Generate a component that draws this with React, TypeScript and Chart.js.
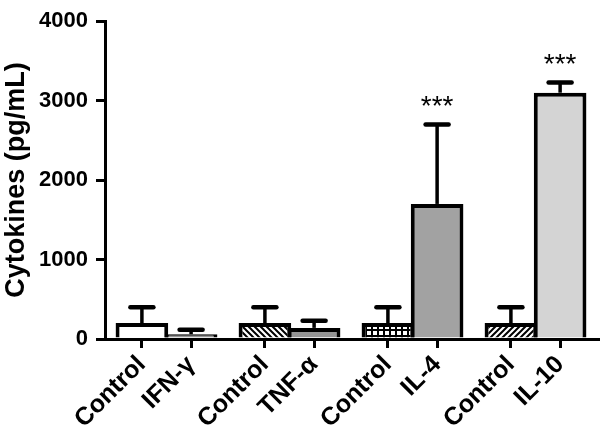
import React, { useEffect, useRef } from "react";
import { Chart, registerables } from "chart.js";

Chart.register(...registerables);

const categories = ["Control", "IFN-γ", "Control", "TNF-α", "Control", "IL-4", "Control", "IL-10"];
const means = [200, 60, 200, 140, 200, 1700, 200, 3100];
const errors = [200, 55, 200, 90, 200, 1000, 200, 130];
const significance = ["", "", "", "", "", "***", "", "***"];
const yTickValues = [0, 1000, 2000, 3000, 4000];
const fills = ["white", "gray", "hatchBack", "gray", "grid", "midGray", "hatchFwd", "lightGray"];

const FONT = "'Liberation Sans', Arial, Helvetica, sans-serif";

function makePattern(kind: string): CanvasPattern | string {
  if (kind === "white") return "#ffffff";
  if (kind === "gray") return "#959595";
  if (kind === "midGray") return "#a2a2a2";
  if (kind === "lightGray") return "#d4d4d4";
  const c = document.createElement("canvas");
  const ctx = c.getContext("2d")!;
  if (kind === "grid") {
    c.width = 6;
    c.height = 6;
    ctx.fillStyle = "#000";
    ctx.fillRect(0, 0, 6, 6);
    ctx.fillStyle = "#fff";
    ctx.fillRect(1, 1, 4, 4);
  } else {
    c.width = 6;
    c.height = 6;
    ctx.fillStyle = "#fff";
    ctx.fillRect(0, 0, 6, 6);
    ctx.strokeStyle = "#000";
    ctx.lineWidth = 2;
    ctx.beginPath();
    if (kind === "hatchBack") {
      ctx.moveTo(-1, -1);
      ctx.lineTo(7, 7);
      ctx.moveTo(-1, 5);
      ctx.lineTo(1, 7);
      ctx.moveTo(5, -1);
      ctx.lineTo(7, 1);
    } else {
      ctx.moveTo(-1, 7);
      ctx.lineTo(7, -1);
      ctx.moveTo(-1, 1);
      ctx.lineTo(1, -1);
      ctx.moveTo(5, 7);
      ctx.lineTo(7, 5);
    }
    ctx.stroke();
  }
  return ctx.createPattern(c, "repeat")!;
}

// two adjacent bars per pair, half a bar of extra gap between pairs
const xPos = (i: number) => i + Math.floor(i / 2) * 0.5;

const errorBarPlugin = {
  id: "errorBars",
  afterDatasetsDraw(chart: any) {
    const ctx = chart.ctx as CanvasRenderingContext2D;
    const y = chart.scales.y;
    const meta = chart.getDatasetMeta(0);
    ctx.save();
    ctx.strokeStyle = "#000";
    ctx.fillStyle = "#000";
    meta.data.forEach((bar: any, i: number) => {
      const x = bar.x;
      const yTop = y.getPixelForValue(means[i]);
      const yCap = y.getPixelForValue(means[i] + errors[i]);
      ctx.lineCap = "butt";
      ctx.lineWidth = 3.5;
      ctx.beginPath();
      ctx.moveTo(x, yTop);
      ctx.lineTo(x, yCap);
      ctx.stroke();
      ctx.lineCap = "round";
      ctx.lineWidth = 4.5;
      ctx.beginPath();
      ctx.moveTo(x - 11.5, yCap);
      ctx.lineTo(x + 11.5, yCap);
      ctx.stroke();
      if (significance[i]) {
        ctx.font = `28px ${FONT}`;
        ctx.textAlign = "center";
        ctx.textBaseline = "alphabetic";
        ctx.fillText(significance[i], x, yCap - 9);
      }
    });
    ctx.restore();
  },
};

export default function App() {
  const ref = useRef<HTMLCanvasElement | null>(null);

  useEffect(() => {
    if (!ref.current) return;
    const chart = new Chart(ref.current, {
      type: "bar",
      data: {
        datasets: [
          {
            data: means.map((v, i) => ({ x: xPos(i), y: v })),
            backgroundColor: fills.map(makePattern),
            borderColor: "#000",
            borderWidth: 4,
            borderSkipped: "start",
            barPercentage: 1.07,
            categoryPercentage: 1,
          },
        ],
      },
      options: {
        responsive: false,
        animation: false,
        layout: { padding: { top: 11, right: 2, left: 0, bottom: 0 } },
        plugins: {
          legend: { display: false },
          tooltip: { enabled: false },
        },
        scales: {
          x: {
            type: "linear",
            min: -0.75,
            max: 9.27,
            offset: false,
            afterBuildTicks: (scale: any) => {
              scale.ticks = categories.map((_, i) => ({ value: xPos(i) }));
            },
            afterFit: (scale: any) => {
              scale.height = 93;
              scale.paddingLeft = 0;
              scale.paddingRight = 0;
            },
            ticks: {
              autoSkip: false,
              minRotation: 45,
              maxRotation: 45,
              padding: 2,
              color: "#000",
              font: { family: FONT, size: 25, weight: "bold" },
              callback: (_v: any, index: number) => categories[index],
            },
            grid: {
              offset: false,
              drawOnChartArea: false,
              drawTicks: true,
              tickLength: 9,
              color: "#000",
              lineWidth: 3,
            },
            border: { display: true, color: "#000", width: 3 },
          },
          y: {
            min: 0,
            max: 4000,
            afterBuildTicks: (scale: any) => {
              scale.ticks = yTickValues.map((v) => ({ value: v }));
            },
            afterFit: (scale: any) => {
              scale.width = 105;
            },
            ticks: {
              padding: 8,
              color: "#000",
              font: { family: FONT, size: 22, weight: "bold" },
              callback: (v: any) => String(v),
            },
            grid: {
              drawOnChartArea: false,
              drawTicks: true,
              tickLength: 9,
              color: "#000",
              lineWidth: 3,
            },
            border: { display: true, color: "#000", width: 3 },
            title: {
              display: true,
              text: "Cytokines (pg/mL)",
              color: "#000",
              font: { family: FONT, size: 27, weight: "bold" },
              padding: { top: 0, bottom: 0 },
            },
          },
        },
      },
      plugins: [errorBarPlugin],
    });
    return () => chart.destroy();
  }, []);

  return (
    <div style={{ position: "absolute", left: 0, top: 0, width: 600, height: 432, background: "#fff" }}>
      <canvas ref={ref} width={600} height={432} />
    </div>
  );
}
